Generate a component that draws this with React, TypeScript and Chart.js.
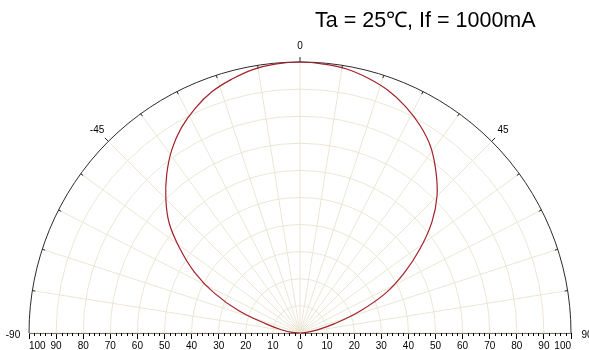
import React, { useEffect, useRef } from 'react';
import { Chart, registerables } from 'chart.js';

Chart.register(...registerables);

// ---- data ----
const chartTitle = 'Ta = 25℃, If = 1000mA';
const angles = [
  -90, -85, -80, -75, -70, -65, -60, -55, -50, -45, -40, -35, -30, -25, -20, -15, -10, -5,
  0, 5, 10, 15, 20, 25, 30, 35, 40, 45, 50, 55, 60, 65, 70, 75, 80, 85, 90,
];
const intensity = [
  0, 3, 7, 13, 24, 35, 45, 54, 63, 70, 76.5, 82.5, 87.5, 91.5, 94.8, 97, 98.8, 99.7,
  100, 99.6, 98.9, 97.3, 95.2, 92.2, 88.5, 84, 78, 71.5, 63.5, 54, 44.5, 35, 23.5, 13, 6.5, 2.5, 0,
];
const gridRadii = [10, 20, 30, 40, 50, 60, 70, 80, 90];
const gridAngles = [-90, -81, -72, -63, -54, -45, -36, -27, -18, -9, 0, 9, 18, 27, 36, 45, 54, 63, 72, 81, 90];
const majorRimAngles = [-90, -45, 0, 45, 90];
const angleLabelValues = [-90, -45, 0, 45, 90];
const angleLabelTexts = ['-90', '-45', '0', '45', '90'];
const radialMin = -100;
const radialMax = 100;
const radialStep = 10;
const minorStep = 2;

const gridColor = '#ebe6d4';
const curveColor = '#a3212a';
const FONT = '"Liberation Sans", Arial, sans-serif';

const polarPlugin = {
  id: 'polarDecor',
  beforeDatasetsDraw(chart: any) {
    const { ctx, scales } = chart;
    const x = scales.x;
    const y = scales.y;
    const cx = x.getPixelForValue(0);
    const cy = y.getPixelForValue(0);
    const R = x.getPixelForValue(100) - cx;
    ctx.save();
    ctx.lineWidth = 1;
    ctx.strokeStyle = gridColor;
    gridRadii.forEach((r) => {
      const pr = x.getPixelForValue(r) - cx;
      ctx.beginPath();
      ctx.arc(cx, cy, pr, Math.PI, 2 * Math.PI);
      ctx.stroke();
    });
    gridAngles.forEach((a) => {
      const t = (a * Math.PI) / 180;
      ctx.beginPath();
      ctx.moveTo(cx, cy);
      ctx.lineTo(cx + R * Math.sin(t), cy - R * Math.cos(t));
      ctx.stroke();
    });
    // outer rim
    ctx.strokeStyle = '#2a2a2a';
    ctx.beginPath();
    ctx.arc(cx, cy, R, Math.PI, 2 * Math.PI);
    ctx.stroke();
    // rim ticks
    gridAngles.forEach((a) => {
      const t = (a * Math.PI) / 180;
      const major = majorRimAngles.includes(a);
      const r0 = major ? R : R - 3;
      const r1 = major ? R + 5 : R;
      if (Math.abs(a) === 90) return;
      ctx.beginPath();
      ctx.moveTo(cx + r0 * Math.sin(t), cy - r0 * Math.cos(t));
      ctx.lineTo(cx + r1 * Math.sin(t), cy - r1 * Math.cos(t));
      ctx.stroke();
    });
    ctx.restore();
  },
  afterDraw(chart: any) {
    const { ctx, scales } = chart;
    const x = scales.x;
    const y = scales.y;
    const cx = x.getPixelForValue(0);
    const cy = y.getPixelForValue(0);
    const R = x.getPixelForValue(100) - cx;
    ctx.save();
    // minor ticks on the radial axis
    ctx.strokeStyle = '#000';
    ctx.lineWidth = 1;
    for (let v = radialMin; v <= radialMax; v += minorStep) {
      if (v % radialStep === 0) continue;
      const px = Math.round(x.getPixelForValue(v)) + 0.5;
      ctx.beginPath();
      ctx.moveTo(px, cy);
      ctx.lineTo(px, cy + 3);
      ctx.stroke();
    }
    // angle labels
    ctx.fillStyle = '#000';
    ctx.font = `10px ${FONT}`;
    ctx.textAlign = 'center';
    ctx.textBaseline = 'middle';
    angleLabelValues.forEach((a, i) => {
      const t = (a * Math.PI) / 180;
      const r = R + 16;
      const dy = Math.abs(a) === 90 ? 2 : 0;
      ctx.fillText(angleLabelTexts[i], cx + r * Math.sin(t), cy - r * Math.cos(t) + dy);
    });
    // title
    ctx.font = `21.5px ${FONT}`;
    ctx.textAlign = 'left';
    ctx.textBaseline = 'alphabetic';
    ctx.fillText(chartTitle, 315, 27);
    ctx.restore();
  },
};

export default function App() {
  const ref = useRef<HTMLCanvasElement | null>(null);
  useEffect(() => {
    if (!ref.current) return;
    const points = angles.map((a, i) => {
      const t = (a * Math.PI) / 180;
      return { x: intensity[i] * Math.sin(t), y: intensity[i] * Math.cos(t) };
    });
    const chart = new Chart(ref.current, {
      type: 'scatter',
      data: {
        datasets: [
          {
            data: points,
            showLine: true,
            borderColor: curveColor,
            borderWidth: 1.2,
            pointRadius: 0,
            tension: 0.4,
            clip: false as any,
          },
        ],
      },
      options: {
        responsive: false,
        animation: false,
        layout: { padding: { left: 29, right: 18, top: 62, bottom: 0 } },
        plugins: { legend: { display: false }, tooltip: { enabled: false }, title: { display: false } },
        scales: {
          x: {
            type: 'linear',
            min: radialMin,
            max: radialMax,
            afterFit: (s: any) => {
              s.height = 17;
            },
            ticks: {
              stepSize: radialStep,
              color: '#000',
              align: 'inner',
              padding: 2,
              maxRotation: 0,
              autoSkip: false,
              font: { family: FONT, size: 10, lineHeight: 1 },
              callback: (v: any) => String(Math.abs(Number(v))),
            },
            grid: { drawOnChartArea: false, tickLength: 6, color: '#000' },
            border: { color: '#000', width: 1 },
          },
          y: { type: 'linear', display: false, min: 0, max: 100 },
        },
      },
      plugins: [polarPlugin],
    });
    return () => chart.destroy();
  }, []);
  return (
    <div style={{ position: 'fixed', left: 0, top: 0, width: 589, height: 350, background: '#fff' }}>
      <canvas ref={ref} width={589} height={350} />
    </div>
  );
}
